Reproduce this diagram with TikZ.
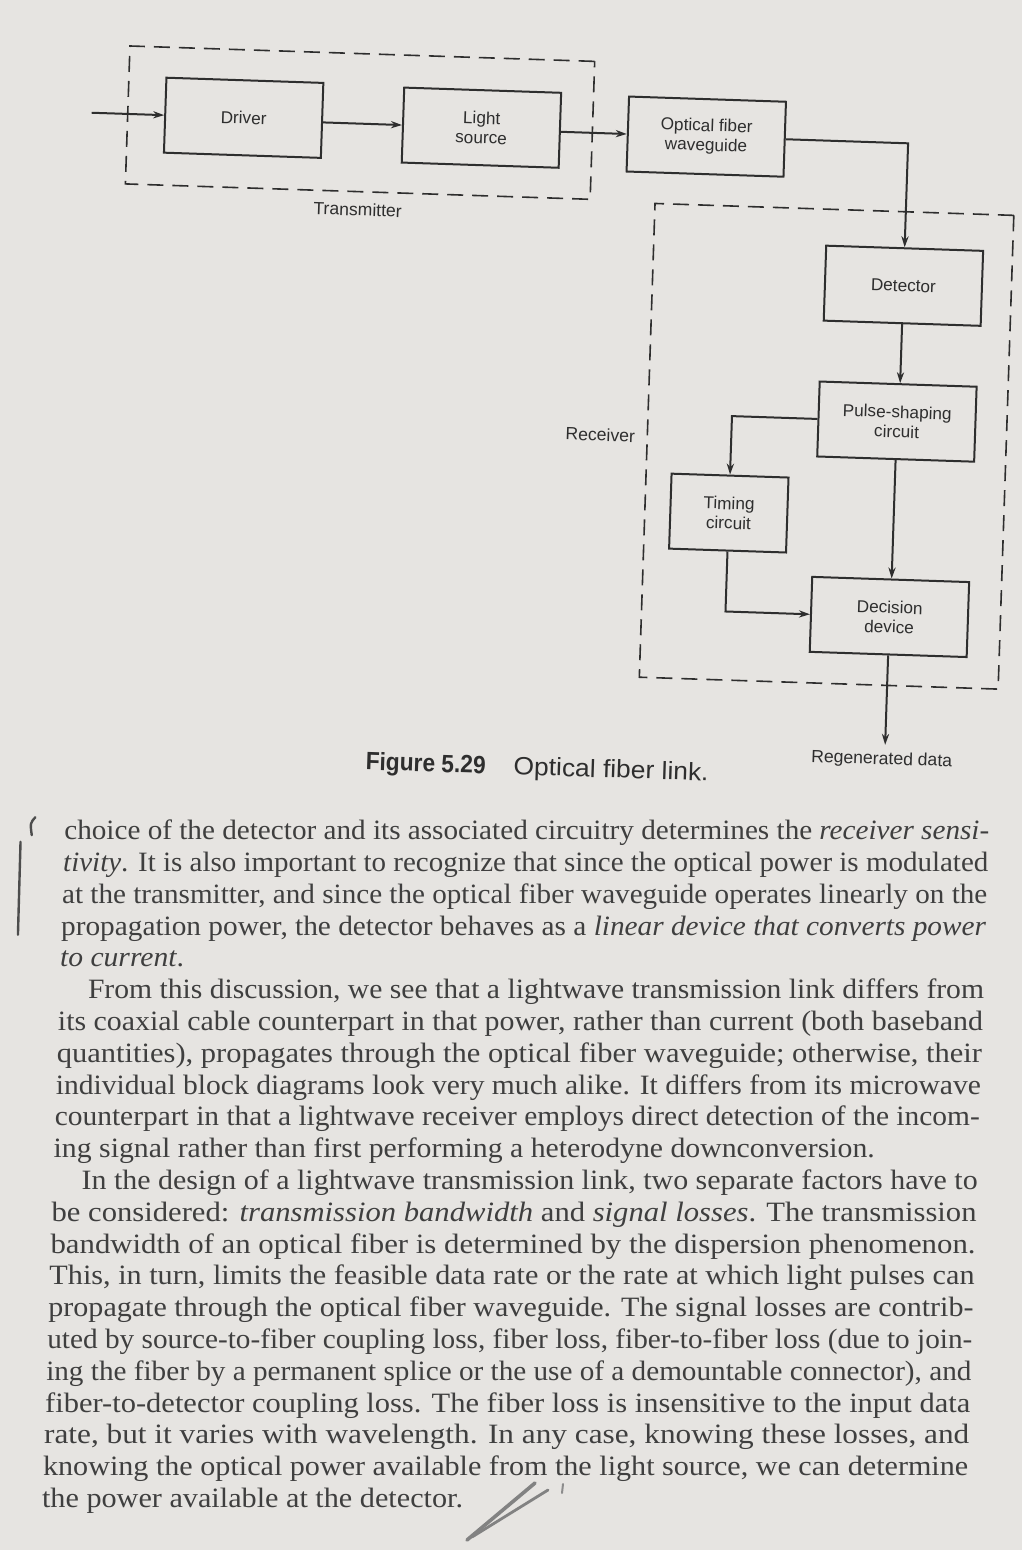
\documentclass[tikz,border=0pt]{standalone}
\usepackage{fontspec}
\setmainfont{Liberation Serif}
\newfontfamily\labelfont{Liberation Sans}
\usepackage{graphicx}
\usetikzlibrary{arrows.meta,calc}
\definecolor{paper}{HTML}{E6E4E1}
\definecolor{ink}{HTML}{2E2E2E}
\newcommand{\fitw}[2]{\resizebox{#1}{\height}{#2}}
\begin{document}
\begin{tikzpicture}[x=0.5pt,y=-0.5pt,
  blk/.style={draw=ink, line width=1pt, minimum width=78.5pt, minimum height=37.5pt, inner sep=0pt, align=center, text=ink, font=\labelfont\fontsize{8.6}{9.8}\selectfont},
  grp/.style={draw=ink, line width=0.8pt, dash pattern=on 8pt off 4.5pt, inner sep=0pt},
  lbl/.style={inner sep=0pt, text=ink, font=\labelfont\fontsize{8.8}{10}\selectfont},
  arr/.style={draw=ink, line width=1pt, -{Stealth[length=5.5pt,width=3.6pt]}},
  body/.style={anchor=base west, inner sep=0pt, text=ink!92, font=\fontsize{14}{16}\selectfont},
  capt/.style={anchor=west, inner sep=0pt, text=ink, font=\labelfont\fontsize{12.5}{14}\selectfont},
  penmark/.style={draw=ink!85, line width=1.2pt, line cap=round}
]
\useasboundingbox (0,0) rectangle (1022,1550);
\fill[paper] (0,0) rectangle (1022,1550);
\begin{scope}[rotate around={-1.9:(511,775)}, transform shape]
  % group frames
  \node[grp, minimum width=232.5pt, minimum height=69pt] (tx) at (338.5,128) {};
  \node[grp, minimum width=179.5pt, minimum height=237pt] (rx) at (815.5,436) {};
  % blocks
  \node[blk] (drv) at (222,127) {Driver};
  \node[blk] (lsrc) at (460,129) {Light\\source};
  \node[blk] (opt) at (685,130.5) {Optical fiber\\waveguide};
  \node[blk] (det) at (887,273) {Detector};
  \node[blk] (pls) at (885,409) {Pulse-shaping\\circuit};
  \node[blk, minimum width=58.5pt] (tim) at (720,506) {Timing\\circuit};
  \node[blk] (dec) at (884,604.5) {Decision\\device};
  % labels
  \node[lbl] (txl) at (339,215) {Transmitter};
  \node[lbl] (rxl) at (589,432) {Receiver};
  \coordinate (in) at (70,127);
  \coordinate (out) at (884,732.5);
  \node[lbl, anchor=north] (regl) at (881,739) {Regenerated data};
  % connectors
  \draw[arr] (in) -- (drv.west);
  \draw[arr] ($(drv.north east)!(lsrc.west)!(drv.south east)$) -- (lsrc.west);
  \draw[arr] ($(lsrc.north east)!(opt.west)!(lsrc.south east)$) -- (opt.west);
  \draw[arr] (opt.east) -- ($(opt.west)!(det.north)!(opt.east)$) -- (det.north);
  \draw[arr] (det.south) -- ($(pls.north west)!(det.south)!(pls.north east)$);
  \draw[arr] (pls.west) -- ($(pls.west)!(tim.north)!(pls.east)$) -- (tim.north);
  \draw[arr] (pls.south) -- ($(dec.north west)!(pls.south)!(dec.north east)$);
  \draw[arr] (tim.south) -- ($(dec.west)!(tim.south)!(dec.east)$) -- (dec.west);
  \draw[arr] (dec.south) -- (out);
  % caption
  \node[capt] (cap) at (365,768) {\fitw{60pt}{\bfseries Figure 5.29}\hspace{14pt}\fitw{97.5pt}{Optical fiber link.}};
  % margin pen marks
  \draw[penmark] (23,858) -- (23.5,951);
  \draw[penmark] (37,833) .. controls (32,839) .. (34,851);
\end{scope}
% body text (straight lines following the page's slant)
\node[body] (t0) at (63.9-1.06*0,839.6+31.8*0) {\fitw{462.5pt}{choice of the detector and its associated circuitry determines the \textit{receiver sensi-}}};
\node[body] (t1) at (63.9-1.06*1,839.6+31.8*1) {\fitw{462.5pt}{\textit{tivity}. It is also important to recognize that since the optical power is modulated}};
\node[body] (t2) at (63.9-1.06*2,839.6+31.8*2) {\fitw{462.5pt}{at the transmitter, and since the optical fiber waveguide operates linearly on the}};
\node[body] (t3) at (63.9-1.06*3,839.6+31.8*3) {\fitw{462.5pt}{propagation power, the detector behaves as a \textit{linear device that converts power}}};
\node[body] (t4) at (63.9-1.06*4,839.6+31.8*4) {\fitw{62pt}{\textit{to current}.}};
\node[body] (t5) at (92.9-1.06*5,839.6+31.8*5) {\fitw{448pt}{From this discussion, we see that a lightwave transmission link differs from}};
\node[body] (t6) at (63.9-1.06*6,839.6+31.8*6) {\fitw{462.5pt}{its coaxial cable counterpart in that power, rather than current (both baseband}};
\node[body] (t7) at (63.9-1.06*7,839.6+31.8*7) {\fitw{462.5pt}{quantities), propagates through the optical fiber waveguide; otherwise, their}};
\node[body] (t8) at (63.9-1.06*8,839.6+31.8*8) {\fitw{462.5pt}{individual block diagrams look very much alike. It differs from its microwave}};
\node[body] (t9) at (63.9-1.06*9,839.6+31.8*9) {\fitw{462.5pt}{counterpart in that a lightwave receiver employs direct detection of the incom-}};
\node[body] (t10) at (63.9-1.06*10,839.6+31.8*10) {\fitw{410.5pt}{ing signal rather than first performing a heterodyne downconversion.}};
\node[body] (t11) at (92.9-1.06*11,839.6+31.8*11) {\fitw{448pt}{In the design of a lightwave transmission link, two separate factors have to}};
\node[body] (t12) at (63.9-1.06*12,839.6+31.8*12) {\fitw{462.5pt}{be considered: \textit{transmission bandwidth} and \textit{signal losses}. The transmission}};
\node[body] (t13) at (63.9-1.06*13,839.6+31.8*13) {\fitw{462.5pt}{bandwidth of an optical fiber is determined by the dispersion phenomenon.}};
\node[body] (t14) at (63.9-1.06*14,839.6+31.8*14) {\fitw{462.5pt}{This, in turn, limits the feasible data rate or the rate at which light pulses can}};
\node[body] (t15) at (63.9-1.06*15,839.6+31.8*15) {\fitw{462.5pt}{propagate through the optical fiber waveguide. The signal losses are contrib-}};
\node[body] (t16) at (63.9-1.06*16,839.6+31.8*16) {\fitw{462.5pt}{uted by source-to-fiber coupling loss, fiber loss, fiber-to-fiber loss (due to join-}};
\node[body] (t17) at (63.9-1.06*17,839.6+31.8*17) {\fitw{462.5pt}{ing the fiber by a permanent splice or the use of a demountable connector), and}};
\node[body] (t18) at (63.9-1.06*18,839.6+31.8*18) {\fitw{462.5pt}{fiber-to-detector coupling loss. The fiber loss is insensitive to the input data}};
\node[body] (t19) at (63.9-1.06*19,839.6+31.8*19) {\fitw{462.5pt}{rate, but it varies with wavelength. In any case, knowing these losses, and}};
\node[body] (t20) at (63.9-1.06*20,839.6+31.8*20) {\fitw{462.5pt}{knowing the optical power available from the light source, we can determine}};
\node[body] (t21) at (63.9-1.06*21,839.6+31.8*21) {\fitw{210.5pt}{the power available at the detector.}};
% pen scribble
\draw[penmark, draw=ink!60, line width=1.8pt] (467,1540) -- (535,1483);
\draw[penmark, draw=ink!60, line width=1.4pt] (472,1537) -- (548,1490);
\draw[penmark, draw=ink!55, line width=1pt] (563,1484) -- (562,1493);
\end{tikzpicture}
\end{document}
